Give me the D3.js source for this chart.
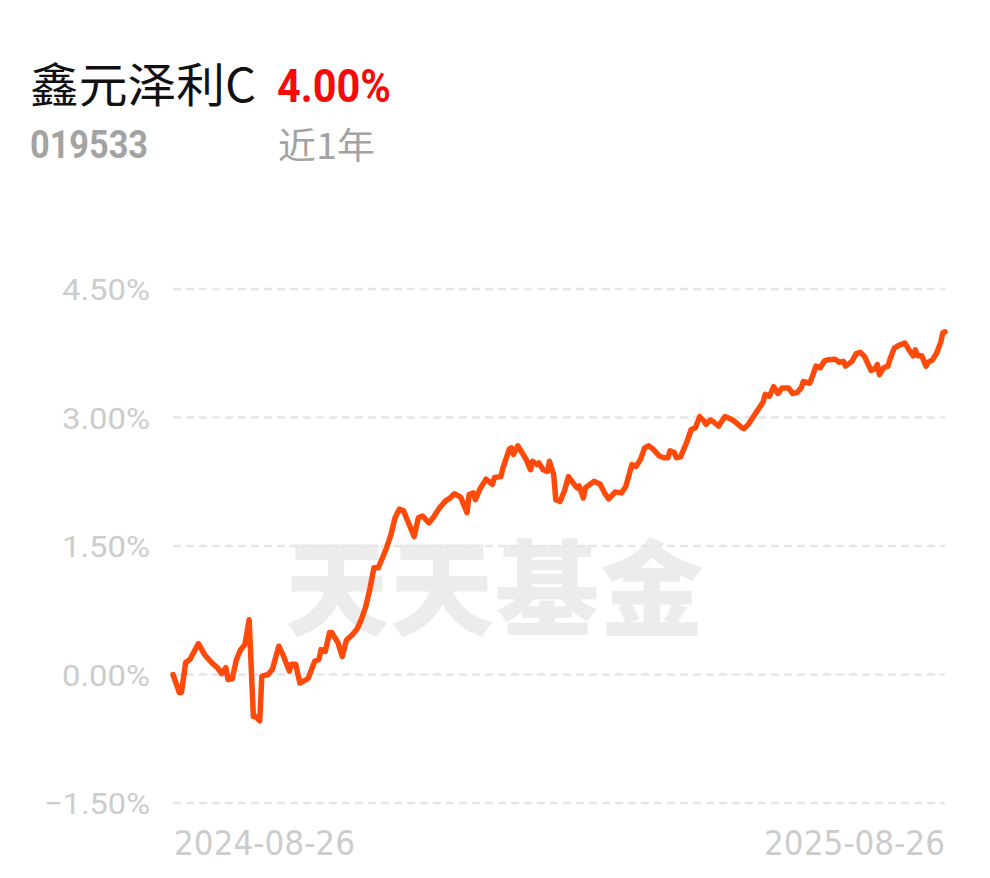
<!DOCTYPE html>
<html><head><meta charset="utf-8">
<script src="https://cdn.jsdelivr.net/npm/d3@7/dist/d3.min.js"></script>
<style>
html,body{margin:0;padding:0;background:#fff;}
svg{display:block;}
</style></head>
<body><svg id="c" width="990" height="878"></svg>
<script>
const fundName = "鑫元泽利C";
const fundCode = "019533";
const periodLabel = "近1年";
const periodReturn = "4.00%";
const startDate = "2024-08-26";
const endDate = "2025-08-26";
const yTicks = [-1.5, 0, 1.5, 3.0, 4.5];
const xTickLabels = ["2024-08-26", "2025-08-26"];
// day offsets from start date and cumulative return (%)
const dayOffsets = [0,3,4,6,8,12,15,19,21,23,25,26,28,30,32,34,36,38,39,41,42,45,47,50,52,55,56,58,60,63,64,67,69,70,72,74,75,78,80,82,85,87,89,91,93,95,97,99,101,103,105,107,109,112,114,116,118,121,123,126,129,131,133,136,139,140,142,143,145,148,151,152,155,156,159,160,161,163,166,167,169,170,172,173,175,177,178,180,181,183,185,187,189,191,192,194,195,199,202,204,206,209,212,214,217,219,221,223,225,227,230,232,234,235,237,238,240,242,243,245,247,249,251,252,254,255,258,259,261,264,266,269,270,272,274,276,279,280,282,284,286,288,291,293,295,297,298,301,302,304,306,308,310,313,315,317,318,321,323,325,327,330,332,333,334,336,338,339,341,343,346,348,350,351,352,354,356,357,359,361,363,364,365];
const returns = [0.00,-0.21,-0.21,0.14,0.175,0.36,0.23,0.12,0.08,0.01,0.08,-0.06,-0.05,0.175,0.29,0.35,0.64,-0.49,-0.49,-0.54,-0.02,0.00,0.06,0.33,0.23,0.04,0.12,0.12,-0.10,-0.06,-0.04,0.155,0.175,0.29,0.27,0.49,0.49,0.37,0.21,0.40,0.47,0.53,0.64,0.78,0.99,1.245,1.245,1.36,1.48,1.63,1.83,1.93,1.91,1.73,1.61,1.83,1.85,1.77,1.83,1.945,2.03,2.06,2.11,2.07,1.89,2.10,2.12,2.04,2.16,2.28,2.22,2.30,2.31,2.41,2.63,2.645,2.57,2.67,2.55,2.51,2.39,2.49,2.45,2.47,2.39,2.37,2.49,2.33,2.04,2.02,2.14,2.31,2.24,2.18,2.20,2.06,2.18,2.255,2.22,2.12,2.05,2.13,2.12,2.19,2.45,2.43,2.51,2.645,2.67,2.63,2.55,2.53,2.53,2.61,2.59,2.53,2.54,2.66,2.72,2.86,2.88,3.01,2.96,2.92,2.97,2.96,2.90,2.94,3.01,2.98,2.945,2.88,2.87,2.92,2.995,3.07,3.18,3.27,3.25,3.36,3.28,3.345,3.345,3.28,3.29,3.345,3.42,3.40,3.46,3.60,3.58,3.66,3.675,3.68,3.645,3.655,3.60,3.655,3.745,3.76,3.71,3.55,3.57,3.62,3.50,3.58,3.60,3.68,3.81,3.84,3.87,3.79,3.72,3.79,3.72,3.72,3.60,3.645,3.67,3.75,3.88,3.99,4.00];

const parse = d3.timeParse("%Y-%m-%d");
const t0 = parse(startDate), t1 = parse(endDate);
const data = dayOffsets.map((d,i)=>({date: d3.timeDay.offset(t0, d), v: returns[i]}));

const svg = d3.select("#c");
const x = d3.scaleTime().domain([t0, t1]).range([173, 945]);
const y = d3.scaleLinear().domain([-1.5, 4.5]).range([803, 289]);

// watermark
svg.append("text").attr("x", 495).attr("y", 628).attr("text-anchor","middle")
  .attr("font-family","'Noto Sans CJK SC'").attr("font-weight",900).attr("font-size",104)
  .attr("fill","#ececec").attr("letter-spacing", 1).text("天天基金");

// title
svg.append("text").attr("x", 30).attr("y", 102)
  .attr("font-family","'Noto Sans CJK SC'").attr("font-size",47).attr("fill","#111")
  .attr("textLength",226).attr("lengthAdjust","spacingAndGlyphs")
  .text(fundName);
svg.append("text").attr("x", 277).attr("y", 102)
  .attr("font-family","Roboto, 'DejaVu Sans Condensed'").attr("font-weight",700).attr("font-size",47)
  .attr("fill","#f50a0a").attr("textLength",114).attr("lengthAdjust","spacingAndGlyphs")
  .text(periodReturn);
svg.append("text").attr("x", 30).attr("y", 158)
  .attr("font-family","Roboto").attr("font-weight",700).attr("font-size",38)
  .attr("fill","#a3a3a3").attr("textLength",118).attr("lengthAdjust","spacingAndGlyphs")
  .text(fundCode);
svg.append("text").attr("x", 278).attr("y", 159)
  .attr("font-family","'Noto Sans CJK SC'").attr("font-size",36).attr("fill","#a3a3a3")
  .attr("textLength",97).attr("lengthAdjust","spacingAndGlyphs")
  .text(periodLabel);

// grid + y labels
const g = svg.append("g");
g.selectAll("line.grid").data(yTicks).join("line").attr("class","grid")
  .attr("x1",173).attr("x2",945).attr("y1",d=>y(d)).attr("y2",d=>y(d))
  .attr("stroke","#e6e6e6").attr("stroke-width",2.5).attr("stroke-dasharray","8,5");
g.selectAll("text.yl").data(yTicks).join("text").attr("class","yl")
  .attr("x",150).attr("y",d=>y(d)+11).attr("text-anchor","end")
  .attr("font-family","Roboto").attr("font-size",30).attr("fill","#cccccc")
  .attr("textLength",d=>d<0?106:88).attr("lengthAdjust","spacingAndGlyphs")
  .text(d=>d3.format(".2f")(d).replace("-","−")+"%");

// x labels
svg.append("text").attr("x",174).attr("y",855).attr("text-anchor","start")
  .attr("font-family","'DejaVu Sans Condensed','DejaVu Sans'").attr("font-stretch","condensed").attr("font-size",33)
  .attr("fill","#cccccc").attr("textLength",181).attr("lengthAdjust","spacingAndGlyphs")
  .text(xTickLabels[0]);
svg.append("text").attr("x",764).attr("y",855).attr("text-anchor","start")
  .attr("font-family","'DejaVu Sans Condensed','DejaVu Sans'").attr("font-stretch","condensed").attr("font-size",33)
  .attr("fill","#cccccc").attr("textLength",181).attr("lengthAdjust","spacingAndGlyphs")
  .text(xTickLabels[1]);

// line
const line = d3.line().x(d=>x(d.date)).y(d=>y(d.v)).curve(d3.curveLinear);
svg.append("path").datum(data).attr("d",line).attr("fill","none")
  .attr("stroke","#ff4a0a").attr("stroke-width",5.5).attr("stroke-linejoin","round").attr("stroke-linecap","round");
</script></body></html>
